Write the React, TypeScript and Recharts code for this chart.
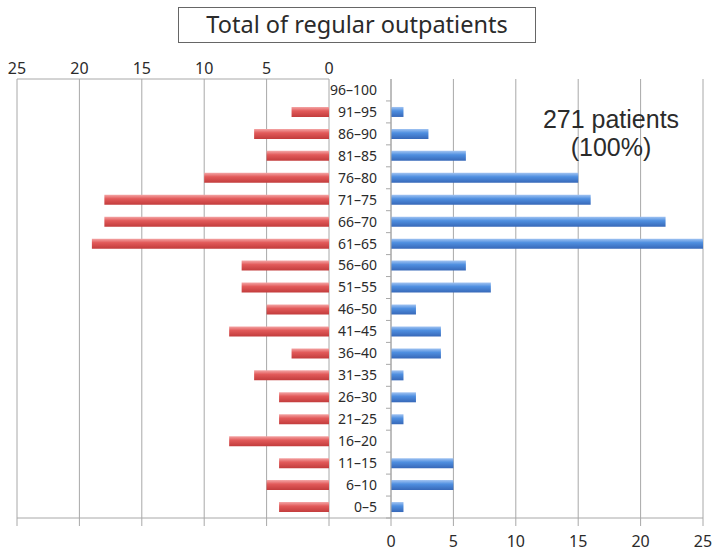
import { BarChart, Bar, XAxis, YAxis, CartesianGrid } from "recharts";

// age groups, top of the pyramid first
const ages = [
  "96–100", "91–95", "86–90", "81–85", "76–80", "71–75", "66–70", "61–65", "56–60", "51–55",
  "46–50", "41–45", "36–40", "31–35", "26–30", "21–25", "16–20", "11–15", "6–10", "0–5",
];
const leftValues = [0, 3, 6, 5, 10, 18, 18, 19, 7, 7, 5, 8, 3, 6, 4, 4, 8, 4, 5, 4];
const rightValues = [0, 1, 3, 6, 15, 16, 22, 25, 6, 8, 2, 4, 4, 1, 2, 1, 0, 5, 5, 1];
const ticks = [0, 5, 10, 15, 20, 25];

const data = ages.map((age, i) => ({ age, left: leftValues[i], right: rightValues[i] }));

const GRID = "#a8a8a8";
const TEXT = "#2b2b2b";
const FONT = "'Noto Sans', sans-serif";

const AgeTick = (props: any) => {
  const { x, y, payload, index } = props;
  const half = payload && payload.offset ? payload.offset : 11;
  const axisX = x + 14;
  return (
    <g>
      <text x={x} y={y} dy="0.35em" textAnchor="end" fontSize={14} fill={TEXT} fontFamily={FONT}>
        {payload.value}
      </text>
      <line x1={axisX - 5} x2={axisX} y1={y + half} y2={y + half} stroke={GRID} />
      {index === ages.length - 1 && (
        <line x1={axisX - 62} x2={axisX} y1={y + half} y2={y + half} stroke={GRID} />
      )}
    </g>
  );
};

const noteStyle = {
  position: "absolute" as const,
  left: 511,
  width: 200,
  textAlign: "center" as const,
  fontFamily: "'Liberation Sans', sans-serif",
  fontSize: 25,
  lineHeight: 1,
  color: TEXT,
};

export default function App() {
  return (
    <div
      style={{
        position: "absolute",
        left: 0,
        top: 0,
        width: 713,
        height: 551,
        background: "#fff",
        fontFamily: FONT,
      }}
    >
      <div
        style={{
          position: "absolute",
          left: 178,
          top: 7,
          width: 358,
          height: 36,
          border: "1px solid #666",
          boxSizing: "border-box",
          textAlign: "center",
          fontSize: 23.5,
          lineHeight: "33px",
          color: TEXT,
        }}
      >
        Total of regular outpatients
      </div>

      <div style={{ position: "absolute", left: 0, top: 0 }}>
        <BarChart
          width={340}
          height={551}
          data={data}
          layout="vertical"
          margin={{ top: 49, right: 11, bottom: 0, left: 17 }}
        >
          <defs>
            <linearGradient id="redGrad" x1="0" y1="0" x2="0" y2="1">
              <stop offset="0%" stopColor="#f4a6a6" />
              <stop offset="40%" stopColor="#e25a5a" />
              <stop offset="100%" stopColor="#c23c3c" />
            </linearGradient>
          </defs>
          <CartesianGrid horizontal={false} stroke={GRID} />
          <XAxis
            type="number"
            orientation="top"
            reversed
            domain={[0, 25]}
            ticks={ticks}
            height={30}
            tickLine={false}
            tickSize={0}
            tickMargin={5}
            axisLine={{ stroke: GRID }}
            tick={{ fontSize: 16, fill: TEXT }}
          />
          <XAxis
            xAxisId="bottom"
            type="number"
            orientation="bottom"
            reversed
            domain={[0, 25]}
            allowDataOverflow
            ticks={ticks}
            height={33}
            tickSize={8}
            tickFormatter={() => ""}
            axisLine={{ stroke: GRID }}
            tickLine={{ stroke: GRID }}
          />
          <YAxis type="category" dataKey="age" hide />
          <Bar dataKey="left" fill="url(#redGrad)" barSize={10} isAnimationActive={false} />
        </BarChart>
      </div>

      <div style={{ position: "absolute", left: 329, top: 0 }}>
        <BarChart
          width={384}
          height={551}
          data={data}
          layout="vertical"
          margin={{ top: 79, right: 10, bottom: 0, left: 0 }}
        >
          <defs>
            <linearGradient id="blueGrad" x1="0" y1="0" x2="0" y2="1">
              <stop offset="0%" stopColor="#a2c4f2" />
              <stop offset="40%" stopColor="#4f8fe0" />
              <stop offset="100%" stopColor="#3768b8" />
            </linearGradient>
          </defs>
          <CartesianGrid horizontal={false} stroke={GRID} />
          <XAxis
            type="number"
            orientation="bottom"
            domain={[0, 25]}
            ticks={ticks}
            height={33}
            tickSize={8}
            tickMargin={10}
            axisLine={{ stroke: GRID }}
            tickLine={{ stroke: GRID }}
            tick={{ fontSize: 16, fill: TEXT }}
          />
          <YAxis
            type="category"
            dataKey="age"
            width={62}
            interval={0}
            tickLine={false}
            tickSize={0}
            tickMargin={14}
            axisLine={{ stroke: GRID }}
            tick={<AgeTick />}
          />
          <Bar dataKey="right" fill="url(#blueGrad)" barSize={10} isAnimationActive={false} />
        </BarChart>
      </div>

      <div style={{ ...noteStyle, top: 107 }}>271 patients</div>
      <div style={{ ...noteStyle, top: 135 }}>(100%)</div>
    </div>
  );
}
